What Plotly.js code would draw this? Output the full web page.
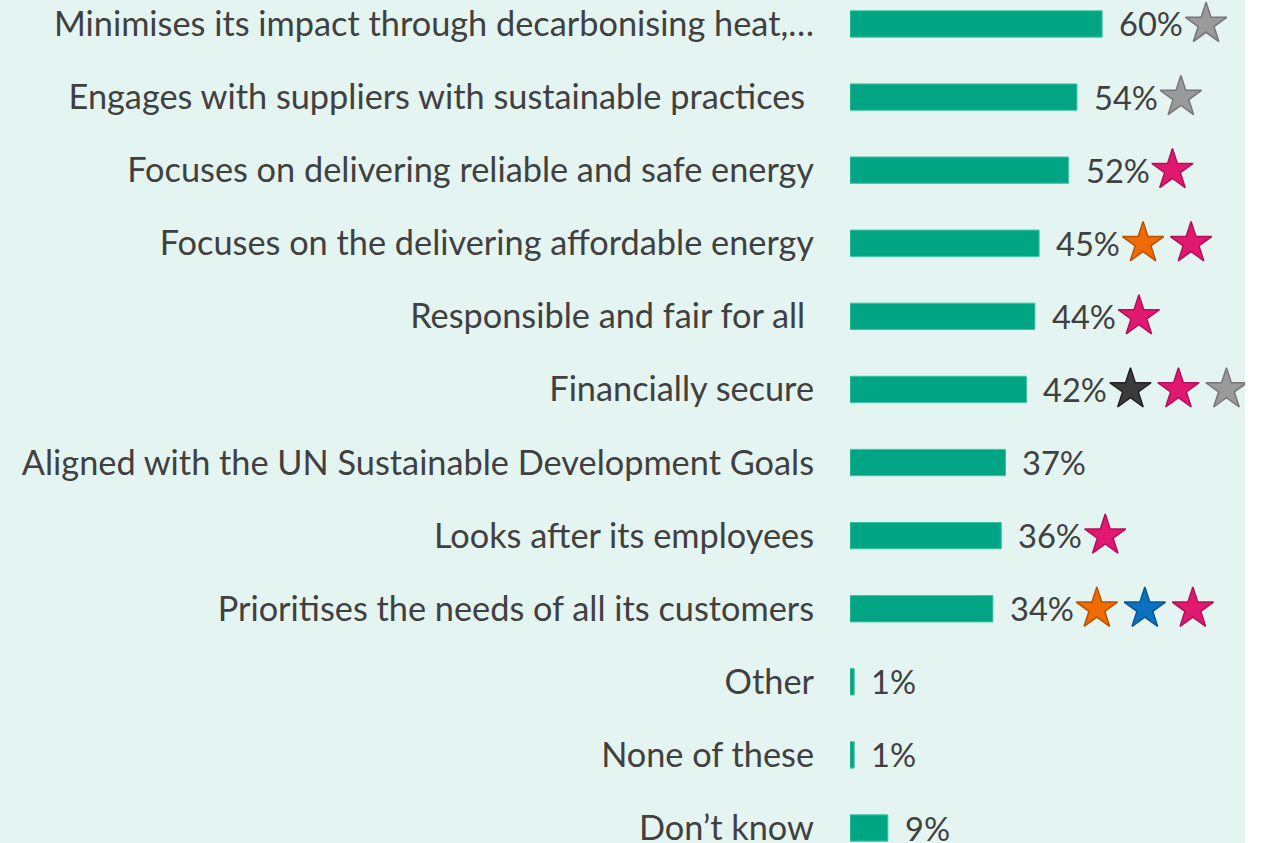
<!DOCTYPE html>
<html><head><meta charset="utf-8">
<script src="https://cdn.plot.ly/plotly-3.0.1.min.js"></script>
<style>html,body{margin:0;padding:0;background:#ffffff;} #chart{width:1245px;height:843px;}</style>
</head><body><div id="chart"></div>
<script>
const categories = [
  "Minimises its impact through decarbonising heat,…",
  "Engages with suppliers with sustainable practices ",
  "Focuses on delivering reliable and safe energy",
  "Focuses on the delivering affordable energy",
  "Responsible and fair for all ",
  "Financially secure",
  "Aligned with the UN Sustainable Development Goals",
  "Looks after its employees",
  "Prioritises the needs of all its customers",
  "Other",
  "None of these",
  "Don’t know"
];
const values = [60, 54, 52, 45, 44, 42, 37, 36, 34, 1, 1, 9];
const starKinds = [
  ["grey"], ["grey"], ["pink"], ["orange", "pink"], ["pink"],
  ["black", "pink", "grey"], [], ["pink"], ["orange", "blue", "pink"], [], [], []
];

const starPalette = {
  grey:   {fill: "#9a9a9a", line: "#767676"},
  pink:   {fill: "#e0186f", line: "#b3105a"},
  orange: {fill: "#ee6b05", line: "#b85400"},
  blue:   {fill: "#0a72bf", line: "#075894"},
  black:  {fill: "#3b3b3b", line: "#222222"}
};

const FONT = "Lato, 'Open Sans', sans-serif";
const TEXT_COLOR = "#404040";
const cv = document.createElement("canvas").getContext("2d");
function measure(t, size) { cv.font = size + "px Lato"; return cv.measureText(t).width; }
const labelSize = 30 * 793 / measure("Aligned with the UN Sustainable Development Goals", 30);
const valueSize = 30 * 64 / measure("60%", 30);

const labels = categories.map(c => c.replace(/ $/, "\u00a0"));

const plotW = 1245 - 850;
const xMax = 94;
const pxPerUnit = plotW / xMax;
const textGap = 15;

const starX = [], starY = [], starFill = [], starLine = [];
starKinds.forEach((kinds, i) => {
  const tw = measure(values[i] + "%", valueSize);
  kinds.forEach((k, j) => {
    const px = values[i] * pxPerUnit + textGap + tw + 25 + j * 48;
    starX.push(px / pxPerUnit);
    starY.push(labels[i]);
    starFill.push(starPalette[k].fill);
    starLine.push(starPalette[k].line);
  });
});

const bars = {
  type: "bar", orientation: "h",
  x: values, y: labels,
  width: 0.36,
  marker: {color: "#00a683", line: {color: "#3fc3a3", width: 1}},
  hoverinfo: "skip"
};
const stars = {
  type: "scatter", mode: "markers",
  x: starX, y: starY,
  marker: {symbol: "star", size: 31, color: starFill, line: {color: starLine, width: 1.5}},
  hoverinfo: "skip", cliponaxis: false
};

const annotations = values.map((v, i) => ({
  x: v, y: labels[i], xref: "x", yref: "y",
  text: v + "%", showarrow: false, xanchor: "left", yanchor: "middle",
  xshift: textGap, font: {family: FONT, size: valueSize, color: TEXT_COLOR}
}));

const layout = {
  width: 1245, height: 843,
  margin: {l: 850, r: 0, t: 0, b: 0},
  paper_bgcolor: "#e4f4f1", plot_bgcolor: "#e4f4f1",
  showlegend: false,
  xaxis: {range: [0, xMax], visible: false, fixedrange: true},
  yaxis: {
    type: "category", categoryorder: "array", categoryarray: labels,
    range: [11.205, -0.328], showgrid: false, zeroline: false, showline: false,
    ticks: "", ticklabelstandoff: 35,
    tickfont: {family: FONT, size: labelSize, color: TEXT_COLOR}, fixedrange: true
  },
  annotations: annotations
};

Plotly.newPlot("chart", [bars, stars], layout, {displayModeBar: false, staticPlot: true});
</script>
</body></html>
